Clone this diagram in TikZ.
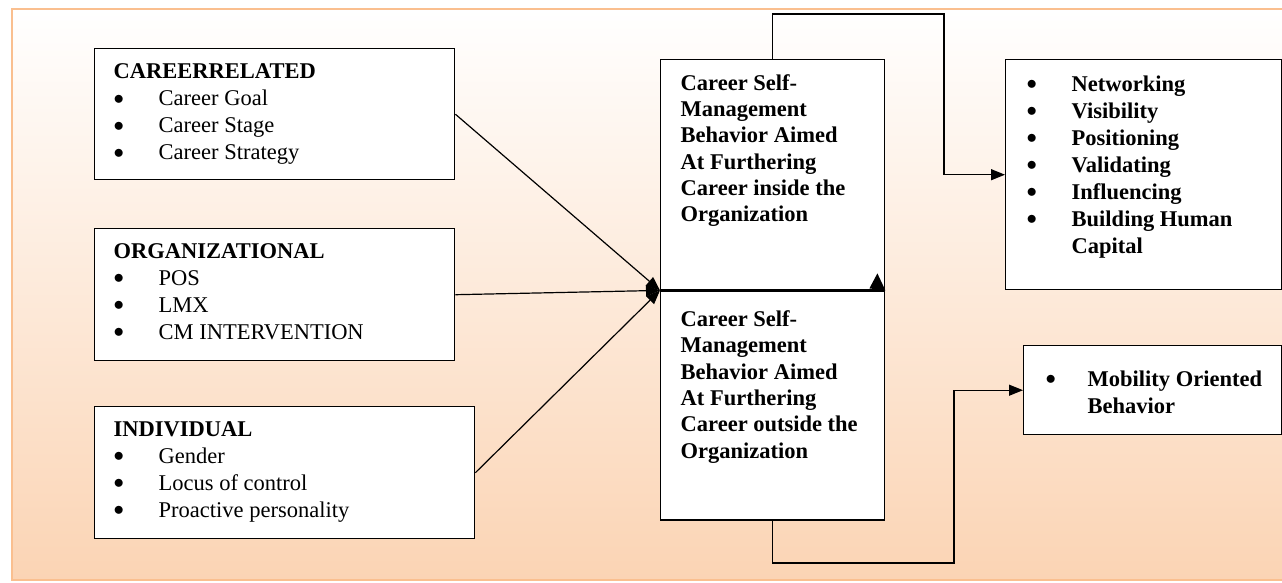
\documentclass[tikz,border=0pt]{standalone}
\usepackage{fontspec}
\setmainfont{Liberation Serif}
\usetikzlibrary{positioning,arrows.meta,calc}
\definecolor{peach}{HTML}{FBD4B4}
\definecolor{peachline}{HTML}{FABF8F}
\newcommand{\boxbody}[5]{\parbox[c][#2][t]{#1}{\vspace{#4}\hspace*{#3}#5}}
\newcommand{\bul}{\raisebox{1.5pt}{$\bullet$}}

\begin{document}
\begin{tikzpicture}[x=1pt,y=-1pt,
factor/.style={draw, line width=1.4pt, fill=white, inner sep=0pt, anchor=north west, font=\fontsize{22.5}{27}\selectfont},
cms/.style={factor, font=\fontsize{22.5}{26.3}\selectfont\bfseries},
outcome/.style={factor, font=\fontsize{22.5}{27}\selectfont\bfseries},
link/.style={line width=1.2pt, -{Triangle[length=14pt,width=11pt]}},
]
\useasboundingbox (0,0) rectangle (1282,582);
\shade[top color=white, bottom color=peach, draw=peachline, line width=2.5pt] (12,9) rectangle (1300,580);

% antecedents
\node[factor] (careerrel) at (94,48) {\boxbody{360pt}{131pt}{19pt}{11pt}{\begin{tabular}[t]{@{}p{45pt}@{}l@{}}
\multicolumn{2}{@{}l@{}}{\textbf{CAREERRELATED}}\\
\bul & Career Goal\\
\bul & Career Stage\\
\bul & Career Strategy
\end{tabular}}};
\node[factor] (organiz) at (94,228) {\boxbody{360pt}{132pt}{19pt}{10.5pt}{\begin{tabular}[t]{@{}p{45pt}@{}l@{}}
\multicolumn{2}{@{}l@{}}{\textbf{ORGANIZATIONAL}}\\
\bul & POS\\
\bul & LMX\\
\bul & CM INTERVENTION
\end{tabular}}};
\node[factor] (individ) at (94,406) {\boxbody{380pt}{132pt}{19pt}{10.5pt}{\begin{tabular}[t]{@{}p{45pt}@{}l@{}}
\multicolumn{2}{@{}l@{}}{\textbf{INDIVIDUAL}}\\
\bul & Gender\\
\bul & Locus of control\\
\bul & Proactive personality
\end{tabular}}};

% career self-management
\node[cms] (inside) at (660,59) {\boxbody{224pt}{230pt}{20pt}{12pt}{\begin{tabular}[t]{@{}l@{}}
Career Self-\\Management\\Behavior Aimed\\At Furthering\\Career inside the\\Organization
\end{tabular}}};
\node[cms, below=0pt of inside] (outside) {\boxbody{224pt}{229pt}{20pt}{17pt}{\begin{tabular}[t]{@{}l@{}}
Career Self-\\Management\\Behavior Aimed\\At Furthering\\Career outside the\\Organization
\end{tabular}}};

% outcomes
\node[outcome] (inoutcomes) at (1005,59) {\boxbody{276pt}{230pt}{21pt}{12.5pt}{\begin{tabular}[t]{@{}p{45pt}@{}l@{}}
\bul & Networking\\
\bul & Visibility\\
\bul & Positioning\\
\bul & Validating\\
\bul & Influencing\\
\bul & Building Human\\
 & Capital
\end{tabular}}};
\node[outcome] (mobility) at (1023,345) {\boxbody{258pt}{89pt}{22pt}{21.5pt}{\begin{tabular}[t]{@{}p{42pt}@{}l@{}}
\bul & Mobility Oriented\\
 & Behavior
\end{tabular}}};

% links
\draw[link] (careerrel.east) -- (inside.south west);
\draw[link] (organiz.east) -- (inside.south west);
\draw[link] (individ.east) -- (inside.south west);
\coordinate (topbend) at (944,14);
\coordinate (botbend) at (954,563);
\draw[link] (inside.north) |- (topbend) |- (inoutcomes.west);
\draw[link] (outside.south) |- (botbend) |- (mobility.west);
\fill ($(inside.south east)+(-8,-17)$) -- ($(inside.south east)+(-16,-2)$) -- ($(inside.south east)+(0,0)$) -- cycle;
\end{tikzpicture}
\end{document}
